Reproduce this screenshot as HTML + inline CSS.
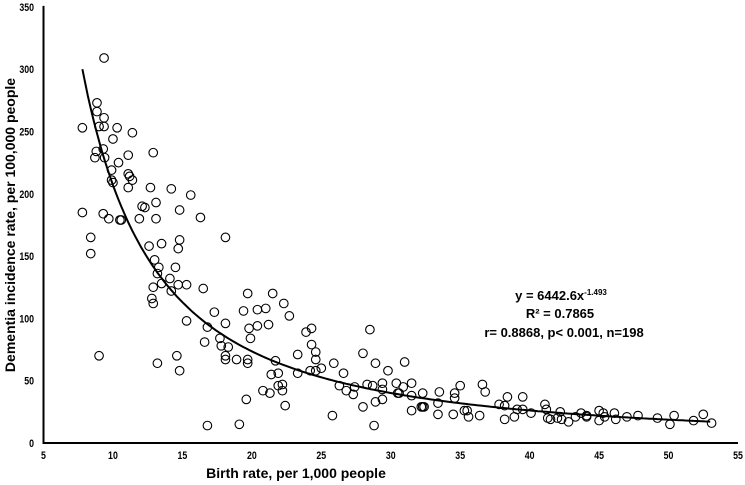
<!DOCTYPE html>
<html><head><meta charset="utf-8"><style>
html,body{margin:0;padding:0;background:#fff;}
svg{display:block;}
text{font-family:"Liberation Sans",Arial,sans-serif;font-weight:bold;fill:#000;}
</style></head><body>
<svg id="chart" width="745" height="485" viewBox="0 0 745 485" xmlns="http://www.w3.org/2000/svg">
<g id="axes"></g>
<g id="curve"></g>
<g id="points"></g>
<text transform="translate(15,225) rotate(-90)" text-anchor="middle" font-size="14">Dementia incidence rate, per 100,000 people</text>
<text x="296" y="478" text-anchor="middle" font-size="14">Birth rate, per 1,000 people</text>
<g font-size="13">
<text x="561" y="300" text-anchor="middle">y = 6442.6x<tspan font-size="8" dy="-5">-1.493</tspan></text>
<text x="560" y="318" text-anchor="middle">R² = 0.7865</text>
<text x="564" y="337" text-anchor="middle">r= 0.8868, p&lt; 0.001, n=198</text>
</g>
</svg>
<script>
const xTicks=[5,10,15,20,25,30,35,40,45,50,55];
const yTicks=[0,50,100,150,200,250,300,350];
const birthRate=[9.36,7.8,8.85,8.85,9.0,9.36,9.36,10.3,11.4,10.0,8.8,9.3,8.7,9.4,11.1,12.9,10.4,9.9,9.9,10.0,11.1,11.2,11.4,11.1,12.7,14.2,15.6,14.8,13.1,12.1,12.3,16.3,7.8,9.3,9.7,10.5,10.6,11.9,13.1,18.1,8.4,13.5,14.8,8.4,14.7,12.6,
13.0,13.3,13.2,14.5,14.1,12.9,13.5,14.2,14.7,15.3,16.5,12.8,12.9,19.7,21.5,22.3,17.3,19.4,20.4,21.0,22.7,15.3,18.1,16.8,19.8,20.4,21.2,19.9,23.9,24.3,17.7,16.6,17.8,18.3,24.3,24.6,28.0,28.5,18.1,18.1,18.9,19.7,19.7,21.7,24.6,9.0,13.2,14.6,14.8,23.3,23.3,25.0,24.2,24.6,25.9,26.6,28.9,29.8,21.4,21.9,21.9,22.2,22.2,20.8,21.3,22.4,19.6,16.8,19.1,25.8,28.8,28.0,28.9,29.4,26.3,26.8,27.3,27.4,28.3,28.7,29.4,29.4,30.4,30.5,
31.0,30.6,30.9,31.5,31.5,31.5,32.3,32.3,32.4,32.2,33.4,33.5,33.4,34.5,34.6,34.6,35.0,35.3,35.5,35.6,36.4,36.6,36.8,37.8,38.2,38.4,38.2,38.9,39.1,39.5,39.5,40.1,41.1,41.2,41.3,41.5,42.0,42.2,42.3,42.8,43.3,43.7,44.1,44.1,45.0,45.0,45.3,45.4,46.1,46.2,47.0,47.8,49.2,50.1,50.4,51.8,52.5,53.1];
const dementiaRate=[309,253,273,266,254,261,254,253,249,244,234,236,229,229,231,233,225,219,211,209,216,214,211,205,205,204,199,187,193,190,189,181,185,184,180,179,179,180,180,165,165,160,163,152,156,158,
147,141,136,141,132,125,128,122,127,127,124,116,112,120,120,112,105,106,107,108,102,98,96,93,92,94,95,84,89,92,84,81,78,77,79,73,72,91,70,67,67,67,64,66,67,70,64,70,58,71,56,60,58,58,64,56,64,58,55,56,46,47,42,42,40,30,35,14,15,22,14,29,33,35,46,42,39,45,47,46,48,43,48,40,
65,40,45,48,38,26,40,29,29,29,32,41,23,23,36,40,46,26,26,21,22,47,41,31,30,37,19,21,27,37,27,24,31,27,20,19,20,25,19,17,21,24,22,21,26,18,24,21,24,19,21,22,20,15,22,18,23,16];
const coefA=6442.6, coefB=-1.493;
const X=v=>43.5+(v-5)*13.89;
const Y=v=>443-v*1.246;
const NS="http://www.w3.org/2000/svg";
function mk(tag,attrs,parent){const e=document.createElementNS(NS,tag);for(const k in attrs)e.setAttribute(k,attrs[k]);parent.appendChild(e);return e;}
const axes=document.getElementById('axes');
const ya=mk('line',{x1:X(5),y1:Y(350)-1,x2:X(5),y2:Y(0),stroke:'#000','stroke-width':2},axes);


const xa=mk('line',{x1:X(5)-1,y1:Y(0),x2:X(55),y2:Y(0),stroke:'#000','stroke-width':2},axes);


xTicks.forEach(t=>{const e=mk('text',{x:X(t),y:459,'text-anchor':'middle','font-size':11,transform:`translate(${X(t)},0) scale(0.8,1) translate(${-X(t)},0)`},axes);e.textContent=t;

});
yTicks.forEach(t=>{const e=mk('text',{x:34,y:Y(t)+4,'text-anchor':'end','font-size':11,transform:`translate(34,0) scale(0.8,1) translate(-34,0)`},axes);e.textContent=t;

});
let d='';
for(let v=7.8;v<=53.01;v+=0.2){d+=(d?'L':'M')+X(v).toFixed(1)+','+Y(coefA*Math.pow(v,coefB)).toFixed(1);}
const c=mk('path',{d:d,fill:'none',stroke:'#000','stroke-width':2},document.getElementById('curve'));


const pg=document.getElementById('points');
birthRate.forEach((b,i)=>{const p=mk('circle',{cx:X(b),cy:Y(dementiaRate[i]),r:4.3,fill:'none',stroke:'#000','stroke-width':1.1},pg);

});
</script>
</body></html>
